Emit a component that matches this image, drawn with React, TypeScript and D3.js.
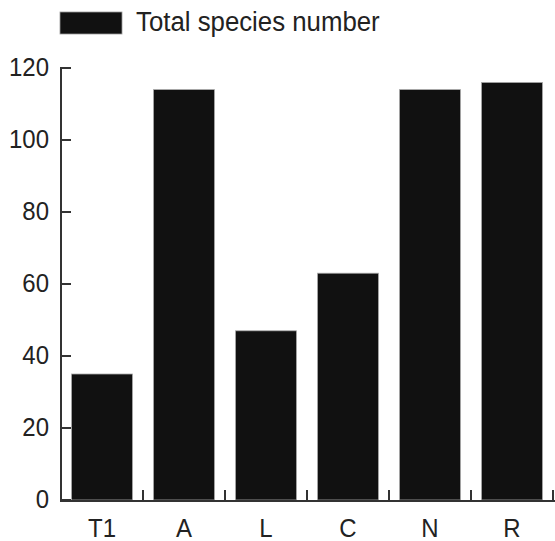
import React from "react";
import * as d3 from "d3";

const categories = ["T1", "A", "L", "C", "N", "R"];
const totalSpecies = [35, 114, 47, 63, 114, 116];
const yTicks = [0, 20, 40, 60, 80, 100, 120];
const legendLabel = "Total species number";

const W = 555;
const H = 541;
const FONT = "'Liberation Sans', Arial, Helvetica, sans-serif";
const SY = 1.1;

function Txt(props: { x: number; y: number; anchor?: string; size: number; children: React.ReactNode; dy?: string }) {
  return (
    <g transform={`translate(${props.x},${props.y}) scale(1,${SY})`}>
      <text x={0} y={0} dy={props.dy} textAnchor={props.anchor || "start"} fontFamily={FONT} fontSize={props.size} fill="#222">
        {props.children}
      </text>
    </g>
  );
}

export default function App() {
  const x = d3.scaleBand<string>().domain(categories).range([61, 553]).paddingInner(0.256).paddingOuter(0.128);
  const y = d3.scaleLinear().domain([0, 120]).range([500, 68]);
  const step = x.step();
  const x0 = 61;
  const bounds = categories.map((_, i) => x0 + step * (i + 1));

  return (
    <svg width={W} height={H} style={{ position: "absolute", left: 0, top: 0, background: "#fff" }}>
      {/* legend */}
      <rect x={60} y={12} width={62} height={22} fill="#111" stroke="#999" strokeWidth={0.8} />
      <Txt x={136} y={31} size={25.8}>{legendLabel}</Txt>

      {/* bars */}
      {categories.map((c, i) => (
        <rect
          key={c}
          x={x(c)!}
          y={y(totalSpecies[i])}
          width={x.bandwidth()}
          height={y(0) - y(totalSpecies[i])}
          fill="#111"
          stroke="#aaa"
          strokeWidth={0.8}
        />
      ))}

      {/* y axis */}
      <line x1={61} x2={61} y1={y(120) - 1} y2={y(0) + 1} stroke="#333" strokeWidth={2} />
      {yTicks.map((t) => (
        <g key={t}>
          <line x1={61} x2={71} y1={y(t)} y2={y(t)} stroke="#333" strokeWidth={2} />
          <Txt x={49} y={y(t) + 8} anchor="end" size={24}>{t}</Txt>
        </g>
      ))}

      {/* x axis */}
      <line x1={60} x2={555} y1={501} y2={501} stroke="#333" strokeWidth={2} />
      {bounds.map((b, i) => (
        <line key={i} x1={b} x2={b} y1={501} y2={490} stroke="#333" strokeWidth={2} />
      ))}
      {categories.map((c) => (
        <Txt key={c} x={x(c)! + x.bandwidth() / 2} y={537} anchor="middle" size={24}>{c}</Txt>
      ))}
    </svg>
  );
}
